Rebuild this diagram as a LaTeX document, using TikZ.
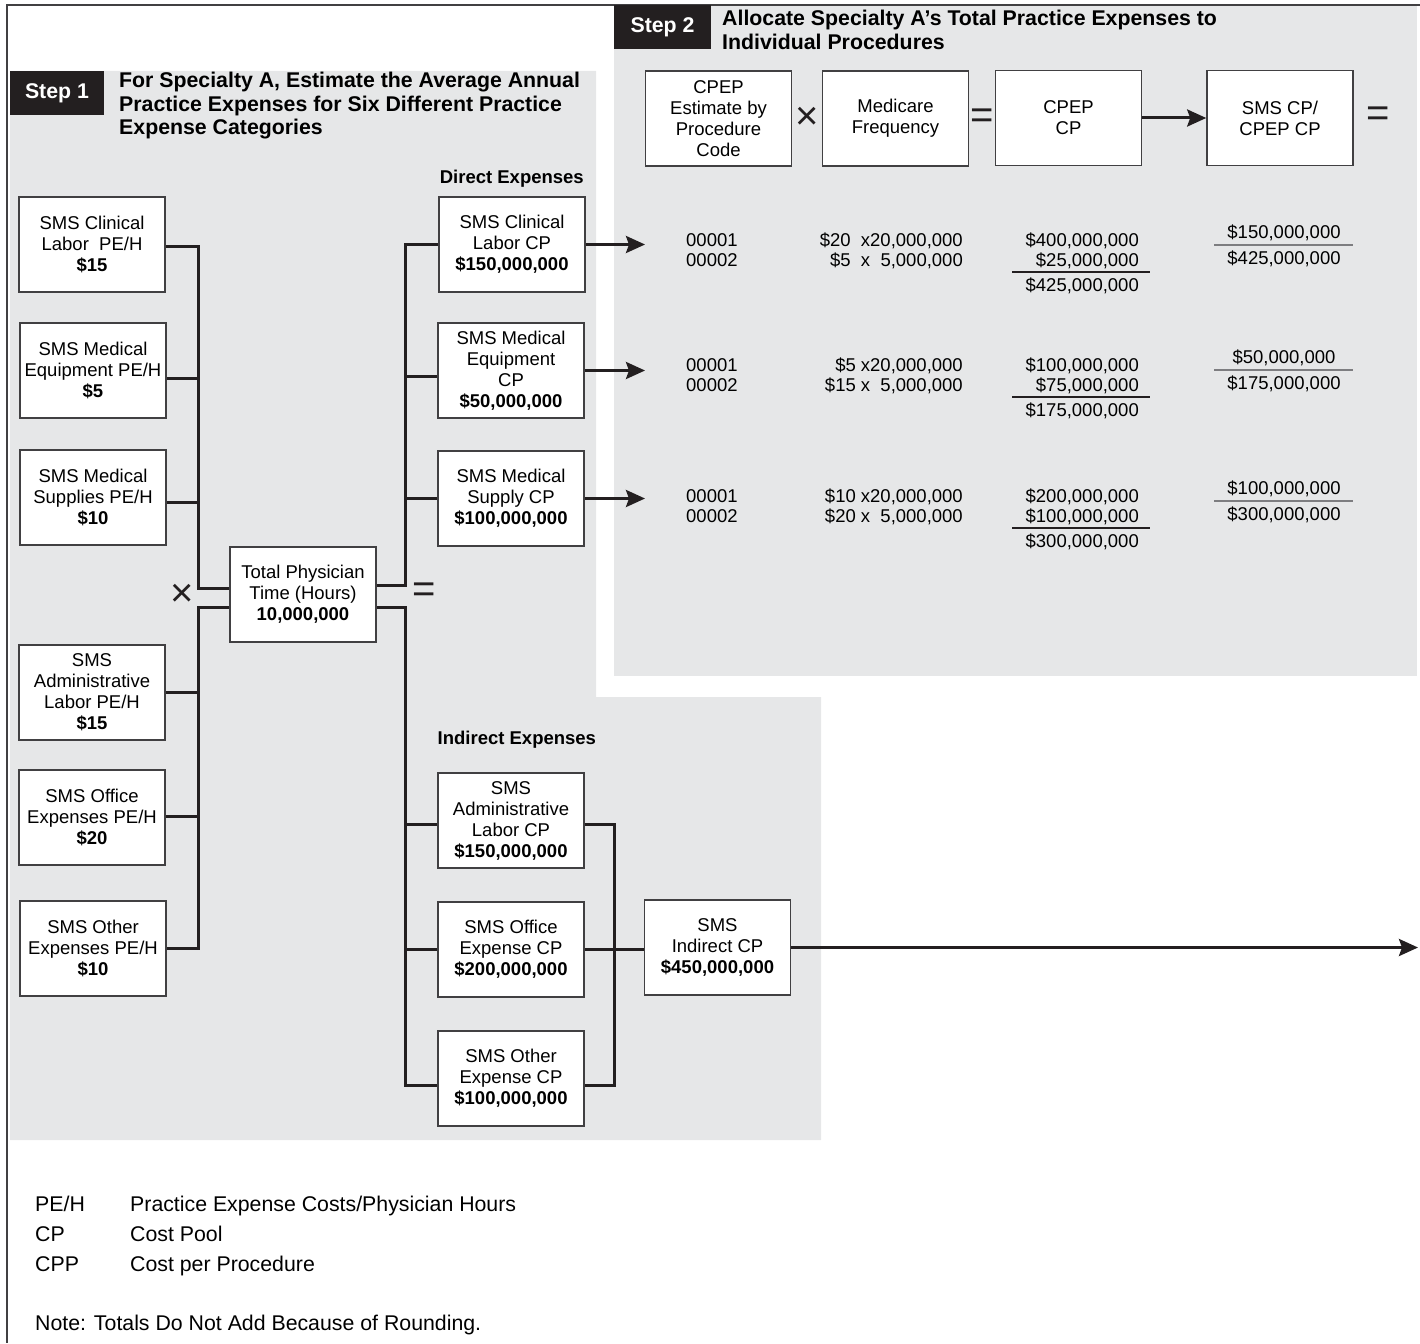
\documentclass[tikz,border=0pt]{standalone}
\usepackage{fontspec}
\setmainfont{Liberation Sans}
\usetikzlibrary{arrows.meta,calc}
\definecolor{bg}{RGB}{230,231,232}
\definecolor{ink}{RGB}{35,31,32}
\definecolor{rim}{RGB}{65,64,66}
\definecolor{frac}{RGB}{125,125,128}

\begin{document}
\begin{tikzpicture}[
    x=1pt, y=-1pt,
    box/.style={shape=rectangle, draw=rim, line width=1.6pt, fill=white,
      minimum width=146pt, minimum height=95pt, inner sep=0pt, align=center,
      font=\fontsize{18.5}{21}\selectfont},
    tag/.style={shape=rectangle, fill=ink, text=white, minimum height=44pt,
      font=\fontsize{21.3}{24}\selectfont\bfseries},
    ttl/.style={anchor=north west, inner sep=0pt, align=left,
      font=\fontsize{21.3}{23.5}\selectfont\bfseries},
    sub/.style={inner sep=0pt, font=\fontsize{18.5}{21}\selectfont\bfseries},
    num/.style={inner sep=0pt, font=\fontsize{18.5}{21}\selectfont},
    leg/.style={inner sep=0pt, anchor=base west, font=\fontsize{21.3}{30}\selectfont},
    op/.style={inner sep=0pt, text=ink, font=\fontsize{40}{40}\selectfont},
    lnk/.style={draw=ink, line width=3pt},
    flow/.style={-{Stealth[length=19pt,width=17pt,inset=3pt]}, draw=ink, line width=3pt},
    sum/.style={draw=ink, line width=1.4pt},
    part/.style={draw=frac, line width=1.6pt},
  ]
  \useasboundingbox (0,0) rectangle (1420,1343);
  % shaded panels and frame
  \fill[bg] (10,71) -- (596,71) -- (596,697) -- (821,697) -- (821,1140) -- (10,1140) -- cycle;
  \fill[bg] (614,5) rectangle (1417,676);
  \draw[rim, line width=1.3pt] (1420,5) -- (7,5) -- (7,1343);

  % step 1
  \node (step1)[tag, minimum width=94pt] at (57,93) {Step 1};
  \node (ttl1)[ttl] at (119,72) {For Specialty A, Estimate the Average Annual\\Practice Expenses for Six Different Practice\\Expense Categories};

  \node (pe1)[box] at (92,244.5) {SMS Clinical\\Labor~~PE/H\\\textbf{\$15}};
  \node (pe2)[box] at (93,370.5) {SMS Medical\\Equipment PE/H\\\textbf{\$5}};
  \node (pe3)[box] at (93,497.5) {SMS Medical\\Supplies PE/H\\\textbf{\$10}};
  \node (pe4)[box] at (92,692.5) {SMS\\Administrative\\Labor PE/H\\\textbf{\$15}};
  \node (pe5)[box] at (92,817.5) {SMS Office\\Expenses PE/H\\\textbf{\$20}};
  \node (pe6)[box] at (93,948.5) {SMS Other\\Expenses PE/H\\\textbf{\$10}};

  \node (tot)[box] at (303,594.5) {Total Physician\\Time (Hours)\\\textbf{10,000,000}};
  \node (mul1)[op] at (182,595) {×};
  \node (eq1)[op] at (424,593) {=};

  \node (dirhd)[sub, anchor=base east] at (584,183.5) {Direct Expenses};
  \node (d1)[box] at (512,244.5) {SMS Clinical\\Labor CP\\\textbf{\$150,000,000}};
  \node (d2)[box] at (511,370.5) {SMS Medical\\Equipment\\CP\\\textbf{\$50,000,000}};
  \node (d3)[box] at (511,498.5) {SMS Medical\\Supply CP\\\textbf{\$100,000,000}};

  \node (indhd)[sub, anchor=base west] at (437.5,744.3) {Indirect Expenses};
  \node (i1)[box] at (511,820.5) {SMS\\Administrative\\Labor CP\\\textbf{\$150,000,000}};
  \node (i2)[box] at (511,949.5) {SMS Office\\Expense CP\\\textbf{\$200,000,000}};
  \node (i3)[box] at (511,1078.5) {SMS Other\\Expense CP\\\textbf{\$100,000,000}};
  \node (sic)[box] at (717.5,947.5) {SMS\\Indirect CP\\\textbf{\$450,000,000}};

  % buses
  \coordinate (lbus) at (198,0);
  \coordinate (rbus) at (405,0);
  \coordinate (ibus) at (614,0);
  \coordinate (rowin) at (645,0);
  \coordinate (outend) at (1418,0);
  \coordinate (tinA) at ([yshift=6.5pt]tot.west);
  \coordinate (tinB) at ([yshift=-12.5pt]tot.west);
  \coordinate (toutA) at ([yshift=9.5pt]tot.east);
  \coordinate (toutB) at ([yshift=-12.5pt]tot.east);

  \draw[lnk] ([yshift=-2pt]pe1.east) -| (tinA -| lbus) -- (tinA);
  \draw[lnk] ([yshift=-7.5pt]pe2.east) -- ([yshift=-7.5pt]pe2.east -| lbus);
  \draw[lnk] ([yshift=-4.5pt]pe3.east) -- ([yshift=-4.5pt]pe3.east -| lbus);
  \draw[lnk] (tinB) -| (pe6.east -| lbus) -- (pe6.east);
  \draw[lnk] (pe4.east) -- (pe4.east -| lbus);
  \draw[lnk] ([yshift=1.5pt]pe5.east) -- ([yshift=1.5pt]pe5.east -| lbus);

  \draw[lnk] (toutA) -| (d1.west -| rbus) -- (d1.west);
  \draw[lnk] ([yshift=-5.5pt]d2.west -| rbus) -- ([yshift=-5.5pt]d2.west);
  \draw[lnk] (d3.west -| rbus) -- (d3.west);
  \draw[lnk] (toutB) -| ([yshift=-7pt]i3.west -| rbus) -- ([yshift=-7pt]i3.west);
  \draw[lnk] ([yshift=-3.5pt]i1.west -| rbus) -- ([yshift=-3.5pt]i1.west);
  \draw[lnk] (i2.west -| rbus) -- (i2.west);
  \draw[lnk] ([yshift=-3.5pt]i1.east) -| ([yshift=-7pt]i3.east -| ibus) -- ([yshift=-7pt]i3.east);
  \draw[lnk] (i2.east) -- (i2.east -| sic.west);
  \draw[flow] (sic.east) -- (sic.east -| outend);
  \foreach \row in {1,2,3}
    \draw[flow] (d\row.east) -- (d\row.east -| rowin);

  % step 2
  \node (step2)[tag, minimum width=97pt] at (662.5,27) {Step 2};
  \node (ttl2)[ttl] at (722,10) {Allocate Specialty A’s Total Practice Expenses to\\Individual Procedures};
  \node (hA)[box] at (718.5,118.5) {CPEP\\Estimate by\\Procedure\\Code};
  \node (hB)[box] at (895.5,118.5) {Medicare\\Frequency};
  \node (hC)[box] at (1068.5,118) {CPEP\\CP};
  \node (hD)[box] at (1280,118) {SMS CP/\\CPEP CP};
  \node (mul2)[op] at ($(hA.east)!.5!(hB.west)$) {×};
  \node (eq2)[op] at ($(hB.east)!.5!(hC.west)$) {=};
  \draw[flow] (hC) -- (hD);
  \node (eq3)[op] at (1378,117) {=};

  \foreach \row/\yb/\pa/\pb/\ca/\cb/\ct/\cn in {
    1/246/{\$20~~x20,000,000}/{\$5~~x~~5,000,000}/{\$400,000,000}/{\$25,000,000}/{\$425,000,000}/{\$150,000,000},
    2/371/{\$5~x20,000,000}/{\$15~x~~5,000,000}/{\$100,000,000}/{\$75,000,000}/{\$175,000,000}/{\$50,000,000},
    3/502/{\$10~x20,000,000}/{\$20~x~~5,000,000}/{\$200,000,000}/{\$100,000,000}/{\$300,000,000}/{\$100,000,000}}
  {
    \node (cda\row)[num, anchor=base west] at (686,\yb) {00001};
    \node (cdb\row)[num, anchor=base west] at (686,\yb+20.7) {00002};
    \node (pra\row)[num, anchor=base east] at (963,\yb) {\pa};
    \node (prb\row)[num, anchor=base east] at (963,\yb+20.7) {\pb};
    \node (cpa\row)[num, anchor=base east] at (1139,\yb) {\ca};
    \node (cpb\row)[num, anchor=base east] at (1139,\yb+20.7) {\cb};
    \draw[sum] (1012,\yb+26) -- (1150,\yb+26);
    \node (cps\row)[num, anchor=base east] at (1139,\yb+45.7) {\ct};
    \node (fn\row)[num, anchor=base] at (1284,\yb-7.7) {\cn};
    \draw[part] (1214,\yb-1) -- (1353,\yb-1);
    \node (fd\row)[num, anchor=base] at (1284,\yb+18.3) {\ct};
  }

  % key
  \node (k1)[leg] at (35,1211) {PE/H};
  \node (v1)[leg] at (130,1211) {Practice Expense Costs/Physician Hours};
  \node (k2)[leg] at (35,1241) {CP};
  \node (v2)[leg] at (130,1241) {Cost Pool};
  \node (k3)[leg] at (35,1271) {CPP};
  \node (v3)[leg] at (130,1271) {Cost per Procedure};
  \node (note)[leg] at (35,1330) {Note: Totals Do Not Add Because of Rounding.};
\end{tikzpicture}
\end{document}
